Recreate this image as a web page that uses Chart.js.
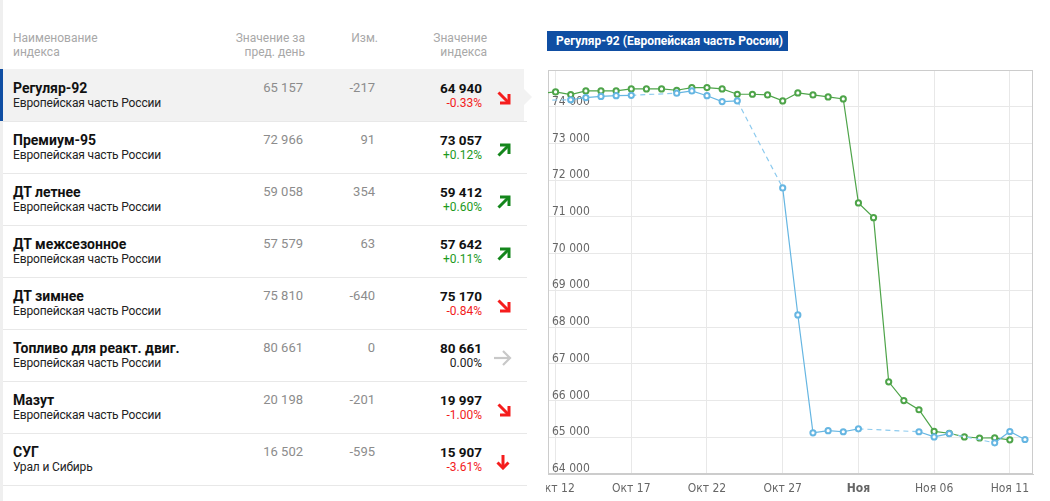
<!DOCTYPE html>
<html><head><meta charset="utf-8">
<script src="https://cdn.jsdelivr.net/npm/chart.js@4.4.1/dist/chart.umd.min.js"></script>
<style>
html,body{margin:0;padding:0;background:#fff;width:1050px;height:501px;overflow:hidden;font-family:Roboto,'Noto Sans',sans-serif;}
.abs{position:absolute;white-space:nowrap;}
.hdr{color:#a8a8a8;font-size:12px;line-height:14px;}
.r{text-align:right;}
.name{font-weight:bold;font-size:14px;color:#111;line-height:16px;}
.reg{font-size:12px;color:#222;line-height:14px;letter-spacing:-0.15px;}
.num{font-size:13px;color:#8c8c8c;line-height:16px;}
.val{font-size:13.5px;font-weight:bold;color:#111;line-height:16px;}
.pct{font-size:12px;line-height:14px;}
#title{position:absolute;left:547px;top:31px;width:241px;height:20px;background:#0f4ea3;color:#fff;font-weight:bold;font-size:12px;line-height:20px;padding-left:9px;box-sizing:border-box;white-space:nowrap;}
#clip{position:absolute;left:546px;top:60px;width:504px;height:441px;overflow:hidden;}
#inner{position:absolute;left:-30px;top:0;width:534px;height:441px;}
</style></head><body>
<div id="table"></div>
<div id="title">Регуляр-92 (Европейская часть России)</div>
<div id="clip"><div id="inner"><canvas id="c"></canvas></div></div>
<script>
// ---- table data ----
const rowNames = ['Регуляр-92','Премиум-95','ДТ летнее','ДТ межсезонное','ДТ зимнее','Топливо для реакт. двиг.','Мазут','СУГ'];
const rowRegions = ['Европейская часть России','Европейская часть России','Европейская часть России','Европейская часть России','Европейская часть России','Европейская часть России','Европейская часть России','Урал и Сибирь'];
const prevValues = ['65 157','72 966','59 058','57 579','75 810','80 661','20 198','16 502'];
const changeValues = ['-217','91','354','63','-640','0','-201','-595'];
const currentValues = ['64 940','73 057','59 412','57 642','75 170','80 661','19 997','15 907'];
const pctValues = ['-0.33%','+0.12%','+0.60%','+0.11%','-0.84%','0.00%','-1.00%','-3.61%'];
const trendKinds = ['down','up','up','up','down','flat','down','fall'];

// ---- chart data ----
const chartTitle = 'Регуляр-92 (Европейская часть России)';
const greenDates = ['2019-10-11','2019-10-12','2019-10-13','2019-10-14','2019-10-15','2019-10-16','2019-10-17','2019-10-18','2019-10-19','2019-10-20','2019-10-21','2019-10-22','2019-10-23','2019-10-24','2019-10-25','2019-10-26','2019-10-27','2019-10-28','2019-10-29','2019-10-30','2019-10-31','2019-11-01','2019-11-02','2019-11-03','2019-11-04','2019-11-05','2019-11-06','2019-11-07','2019-11-08','2019-11-09','2019-11-10','2019-11-11'];
const greenValues = [74370,74403,74332,74430,74430,74430,74484,74484,74484,74449,74522,74522,74484,74340,74340,74321,74158,74376,74321,74267,74212,71380,70980,66510,66000,65750,65160,65110,65010,64980,64985,64930];
const blueDates = ['2019-10-10','2019-10-13','2019-10-14','2019-10-15','2019-10-16','2019-10-17','2019-10-20','2019-10-21','2019-10-22','2019-10-23','2019-10-24','2019-10-27','2019-10-28','2019-10-29','2019-10-30','2019-10-31','2019-11-01','2019-11-05','2019-11-06','2019-11-07','2019-11-10','2019-11-11','2019-11-12'];
const blueValues = [74170,74190,74250,74280,74300,74310,74370,74430,74300,74140,74160,71790,68330,65120,65180,65150,65230,65150,65010,65100,64850,65157,64940];
const tickDates = ['2019-10-12','2019-10-17','2019-10-22','2019-10-27','2019-11-01','2019-11-06','2019-11-11'];
const tickLabels = ['Окт 12','Окт 17','Окт 22','Окт 27','Ноя','Ноя 06','Ноя 11'];
const boldTickLabel = 'Ноя';
const yMin = 64000, yMax = 75000, yStep = 1000;

// ---- build table ----
const T = document.getElementById('table');
function add(html){ T.insertAdjacentHTML('beforeend', html); }
add('<div class="abs" style="left:0;top:0;width:3px;height:501px;background:#efefef"></div>');
add('<div class="abs hdr" style="left:13px;top:31px">Наименование<br>индекса</div>');
add('<div class="abs hdr r" style="right:' + (1050-305) + 'px;top:31px">Значение за<br>пред. день</div>');
add('<div class="abs hdr r" style="right:' + (1050-378) + 'px;top:31px">Изм.</div>');
add('<div class="abs hdr r" style="right:' + (1050-487) + 'px;top:31px">Значение<br>индекса</div>');
const arrowSvg = {
  down:'<svg width="14" height="14" viewBox="0 0 14 14"><path d="M1.5 1.5 L11.5 11.5" stroke="#f51d1d" stroke-width="3" fill="none"/><path d="M12 3 V12 H3" stroke="#f51d1d" stroke-width="3" fill="none"/></svg>',
  up:'<svg width="14" height="14" viewBox="0 0 14 14"><path d="M1.5 12.5 L11.5 2.5" stroke="#14861c" stroke-width="3" fill="none"/><path d="M3 2 H12 V11" stroke="#14861c" stroke-width="3" fill="none"/></svg>',
  flat:'<svg width="19" height="18" viewBox="0 0 19 18"><path d="M1 9 H17" stroke="#c8c8c8" stroke-width="2.2" fill="none"/><path d="M10 2 L17 9 L10 16" stroke="#c8c8c8" stroke-width="2.2" fill="none"/></svg>',
  fall:'<svg width="16" height="16" viewBox="0 0 16 16"><path d="M8 1 V14" stroke="#f51d1d" stroke-width="3" fill="none"/><path d="M2.5 8.5 L8 14 L13.5 8.5" stroke="#f51d1d" stroke-width="3" fill="none"/></svg>'
};
rowNames.forEach((n,i)=>{
  const top = 69 + 52*i;
  if(i===0){
    add('<div class="abs" style="left:0;top:'+top+'px;width:524px;height:52px;background:#f2f2f2"></div>');
    add('<div class="abs" style="left:0;top:'+top+'px;width:3px;height:52px;background:#0f4ea3"></div>');
    add('<div class="abs" style="left:524px;top:'+(top+20)+'px;width:0;height:0;border-top:8px solid transparent;border-bottom:8px solid transparent;border-left:8px solid #f2f2f2"></div>');
  }
  add('<div class="abs" style="left:3px;top:'+(top+52)+'px;width:524px;height:1px;background:#e8e8e8"></div>');
  add('<div class="abs name" style="left:13px;top:'+(top+11)+'px">'+n+'</div>');
  add('<div class="abs reg" style="left:13px;top:'+(top+27)+'px">'+rowRegions[i]+'</div>');
  add('<div class="abs num r" style="right:'+(1050-303)+'px;top:'+(top+11)+'px">'+prevValues[i]+'</div>');
  add('<div class="abs num r" style="right:'+(1050-375)+'px;top:'+(top+11)+'px">'+changeValues[i]+'</div>');
  add('<div class="abs val r" style="right:'+(1050-482)+'px;top:'+(top+11)+'px">'+currentValues[i]+'</div>');
  const col = pctValues[i].startsWith('-') ? '#f21c1c' : (pctValues[i].startsWith('+') ? '#1d9a1d' : '#222');
  add('<div class="abs pct r" style="right:'+(1050-482)+'px;top:'+(top+27)+'px;color:'+col+'">'+pctValues[i]+'</div>');
  const k = trendKinds[i];
  const ax = k==='flat' ? 493 : (k==='fall' ? 495 : 497);
  const ay = k==='flat' ? top+20 : (k==='fall' ? top+21 : top+22);
  add('<div class="abs" style="left:'+ax+'px;top:'+ay+'px;line-height:0">'+arrowSvg[k]+'</div>');
});
document.getElementById('title').textContent = chartTitle;

// ---- chart ----
const DAY = 86400000;
const toDay = s => { const [y,m,d] = s.split('-').map(Number); return Date.UTC(y,m-1,d)/DAY; };
const tickDays = tickDates.map(toDay);
const fmt = v => String(v).replace(/\B(?=(\d{3})+(?!\d))/g, ' ');
const axisFont = "'DejaVu Sans Condensed','Liberation Sans',sans-serif";
const greenColor = '#4ea449', blueColor = '#66b6e2';
const gapDash = ctx => (ctx.p1.parsed.x - ctx.p0.parsed.x > 1.5 ? [5,4] : undefined);

const framePlugin = {
  id:'frame',
  beforeDatasetsDraw(chart){
    const {ctx, chartArea:a} = chart;
    ctx.save(); ctx.strokeStyle = '#cccccc'; ctx.lineWidth = 1;
    ctx.strokeRect(Math.round(a.left)+0.5, Math.round(a.top)+0.5, Math.round(a.right-a.left)-1, Math.round(a.bottom-a.top)-1);
    ctx.restore();
  }
};

new Chart(document.getElementById('c'), {
  type:'line',
  data:{ datasets:[
    { label:'Индекс', data: blueDates.map((d,i)=>({x:toDay(d), y:blueValues[i]})),
      borderColor: blueColor, backgroundColor:'#fff', borderWidth:1.2,
      pointRadius:2.6, pointBorderWidth:2, pointBorderColor: blueColor, pointBackgroundColor:'#fff',
      tension:0, spanGaps:true,
      segment:{ borderDash: gapDash, borderColor: ctx => (ctx.p1.parsed.x - ctx.p0.parsed.x > 1.5 ? '#8ccaee' : undefined) } },
    { label:'Биржа', data: greenDates.map((d,i)=>({x:toDay(d), y:greenValues[i]})),
      borderColor: greenColor, backgroundColor:'#fff', borderWidth:1.2,
      pointRadius:2.6, pointBorderWidth:2, pointBorderColor: greenColor, pointBackgroundColor:'#fff',
      tension:0, segment:{ borderDash: gapDash } }
  ]},
  options:{
    animation:false, responsive:true, maintainAspectRatio:false,
    layout:{ padding:{ left:32, top:10, right:17, bottom:5 } },
    plugins:{ legend:{display:false}, tooltip:{enabled:false} },
    scales:{
      x:{ type:'linear', min: tickDays[0]-0.5, max: tickDays[tickDays.length-1]+1.53,
        afterBuildTicks: s => { s.ticks = tickDays.map(v=>({value:v})); },
        afterFit: s => { s.paddingLeft = 0; s.paddingRight = 0; s.height = 22; },
        ticks:{ autoSkip:false, maxRotation:0, padding:8, color:'#666',
          callback: v => { const i = tickDays.indexOf(v); return i>=0 ? tickLabels[i] : ''; },
          font: ctx => ({ family: axisFont, size:12, weight: (ctx.tick && tickLabels[tickDays.indexOf(ctx.tick.value)]===boldTickLabel) ? 'bold':'normal' }) },
        grid:{ color:'#e8e8e8', drawTicks:false }, border:{ color:'#cccccc' } },
      y:{ min:yMin, max:yMax,
        afterFit: s => { s.width = 0; s.paddingTop = 0; s.paddingBottom = 0; },
        ticks:{ stepSize:yStep, mirror:true, padding:4, labelOffset:-5, color:'#666',
          font:{ family: axisFont, size:12 },
          callback: v => (v >= yMax ? '' : fmt(v)) },
        grid:{ color:'#e8e8e8', drawTicks:false }, border:{ color:'#cccccc' } }
    }
  },
  plugins:[framePlugin]
});
</script>
</body></html>
